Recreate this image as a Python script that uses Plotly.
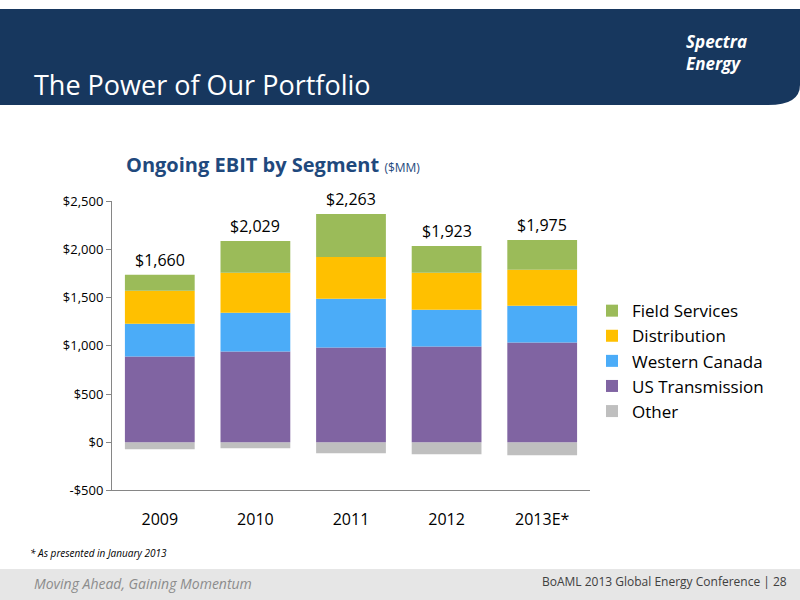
import plotly.graph_objects as go

years = ["2009", "2010", "2011", "2012", "2013E*"]
other = [-72, -62, -114, -124, -134]
us_trans = [888, 940, 981, 992, 1033]
west_can = [341, 403, 507, 382, 382]
distrib = [341, 413, 433, 382, 372]
field = [166, 331, 445, 279, 310]
totals = ["$1,660", "$2,029", "$2,263", "$1,923", "$1,975"]
ytick_vals = [-500, 0, 500, 1000, 1500, 2000, 2500]
ytick_text = ["-$500", "$0", "$500", "$1,000", "$1,500", "$2,000", "$2,500"]

F = "Open Sans"
xs = list(range(len(years)))
fig = go.Figure()
for name, vals, col in [("Other", other, "#BFBFBF"), ("US Transmission", us_trans, "#8064A2"),
                        ("Western Canada", west_can, "#4BACF8"), ("Distribution", distrib, "#FFC000"),
                        ("Field Services", field, "#9BBB59")]:
    fig.add_bar(x=xs, y=vals, name=name, marker=dict(color=col, line_width=0), width=0.73)

tops = [u + w + d + f for u, w, d, f in zip(us_trans, west_can, distrib, field)]
for xi, t, lab in zip(xs, tops, totals):
    fig.add_annotation(x=xi, y=t, text=lab, showarrow=False, yanchor="bottom", yshift=2,
                       font=dict(size=16, color="#000", family=F))

shapes = [
    dict(type="path", xref="paper", yref="paper",
         path="M 0 1.0 L 1 1.0 L 1 0.87 Q 1 0.835 0.96 0.835 L 0 0.835 Z",
         fillcolor="#17375E", line_width=0, layer="below"),
    dict(type="rect", xref="paper", yref="paper", x0=0, x1=1, y0=-0.03, y1=0.038,
         fillcolor="#E6E6E6", line_width=0, layer="below"),
]
ann = [
    dict(x=0.04, y=0.87, text="The Power of Our Portfolio", font=dict(size=27, color="white", family=F)),
    dict(x=0.855, y=0.925, text="<b><i>Spectra<br>Energy</i></b>", font=dict(size=17, color="white", family=F)),
    dict(x=0.155, y=0.732, text="<b>Ongoing EBIT by Segment</b> <span style='font-size:12px'>($MM)</span>",
         font=dict(size=20, color="#1F497D", family=F)),
    dict(x=0.035, y=0.065, text="<i>* As presented in January 2013</i>", font=dict(size=10, color="#000", family=F)),
    dict(x=0.04, y=0.013, text="<i>Moving Ahead, Gaining Momentum</i>", font=dict(size=14, color="#8C8C8C", family=F)),
    dict(x=0.675, y=0.016, text="BoAML 2013 Global Energy Conference | 28", font=dict(size=12, color="#404040", family=F)),
]
for a in ann:
    fig.add_annotation(xref="paper", yref="paper", showarrow=False, xanchor="left", yanchor="middle", align="left", **a)

fig.update_layout(
    width=800, height=600, barmode="relative", paper_bgcolor="white", plot_bgcolor="white",
    margin=dict(l=0, r=0, t=0, b=0), shapes=shapes, font=dict(family=F),
    xaxis=dict(domain=[0.14, 0.7375], range=[-0.5, 4.5], tickvals=xs, ticktext=years,
               showline=True, linecolor="#868686", ticks="", showgrid=False, zeroline=False,
               ticklabelstandoff=14, tickfont=dict(size=16, color="#000")),
    yaxis=dict(domain=[0.1727, 0.670], range=[-500, 2500], tickvals=ytick_vals, ticktext=ytick_text,
               showline=True, linecolor="#868686", ticks="outside", tickcolor="#868686",
               showgrid=False, zeroline=False, tickfont=dict(size=13, color="#000")),
    legend=dict(x=0.74, y=0.395, yanchor="middle", traceorder="reversed", font=dict(size=17, color="#000"),
                tracegroupgap=0),
)
fig.write_html("out.html", config={"displayModeBar": False})
with open("out.html") as fh:
    html = fh.read()
html = html.replace("<head>", "<head><style>html,body{margin:0;padding:0;overflow:hidden}</style>", 1)
with open("out.html", "w") as fh:
    fh.write(html)
